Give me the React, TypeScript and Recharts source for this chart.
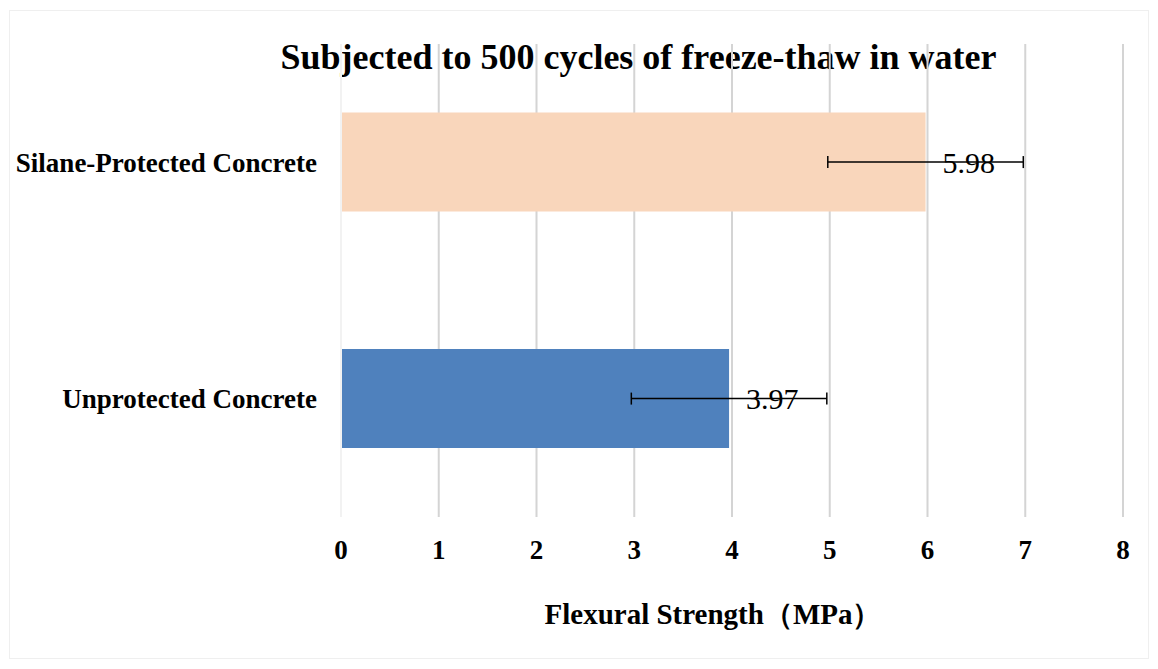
import { BarChart, Bar, XAxis, YAxis, CartesianGrid, ErrorBar, LabelList, ReferenceLine } from 'recharts';

const TITLE = 'Subjected to 500 cycles of freeze-thaw in water';
const X_LABEL = 'Flexural Strength（MPa）';

const CATEGORIES = ['Silane-Protected Concrete', 'Unprotected Concrete'];
const STRENGTH = [5.98, 3.97];
const ERRORS = [1, 1];
const BAR_COLORS = ['#F9D6BB', '#4F81BD'];
const X_TICKS = [0, 1, 2, 3, 4, 5, 6, 7, 8];

const SERIF = '"Liberation Serif", "Times New Roman", serif';

const data = CATEGORIES.map((name, i) => ({
  name,
  value: STRENGTH[i],
  err: ERRORS[i],
  fill: BAR_COLORS[i],
}));

export default function App() {
  return (
    <div style={{ position: 'relative', width: 1158, height: 669, margin: -8, background: '#fff' }}>
      <div
        style={{
          position: 'absolute',
          left: 9,
          top: 10,
          width: 1138,
          height: 647,
          border: '1px solid #efefef',
        }}
      />
      <div
        style={{
          position: 'absolute',
          top: 37,
          left: 0,
          width: 1277,
          textAlign: 'center',
          fontFamily: SERIF,
          fontWeight: 'bold',
          fontSize: 36,
          lineHeight: '40px',
        }}
      >
        {TITLE}
      </div>
      <div
        style={{
          position: 'absolute',
          top: 598,
          left: 0,
          width: 1426,
          textAlign: 'center',
          fontFamily: SERIF,
          fontWeight: 'bold',
          fontSize: 29,
          lineHeight: '32px',
        }}
      >
        {X_LABEL}
      </div>
      <div style={{ position: 'absolute', left: 0, top: 0 }}>
        <BarChart
          width={1158}
          height={669}
          data={data}
          layout="vertical"
          margin={{ top: 44, right: 35, bottom: 122, left: 0 }}
          barCategoryGap="29%"
        >
          <CartesianGrid horizontal={false} stroke="#d4d4d4" strokeWidth={2} />
          <ReferenceLine x={0} stroke="#f2f2f2" strokeWidth={2} />
          <XAxis
            type="number"
            domain={[0, 8]}
            ticks={X_TICKS}
            height={30}
            axisLine={false}
            tickLine={false}
            tickMargin={17}
            tick={{ fontFamily: SERIF, fontWeight: 'bold', fontSize: 27, fill: '#000' }}
          />
          <YAxis
            type="category"
            dataKey="name"
            width={341}
            axisLine={false}
            tickLine={false}
            tickMargin={18}
            tick={{ fontFamily: SERIF, fontWeight: 'bold', fontSize: 27, fill: '#000' }}
          />
          <Bar dataKey="value" isAnimationActive={false}>
            <ErrorBar dataKey="err" direction="x" stroke="#000" strokeWidth={1.5} width={6} />
            <LabelList
              dataKey="value"
              position="right"
              offset={17}
              style={{ fontFamily: SERIF, fontSize: 30, fill: '#000' }}
            />
          </Bar>
        </BarChart>
      </div>
    </div>
  );
}
